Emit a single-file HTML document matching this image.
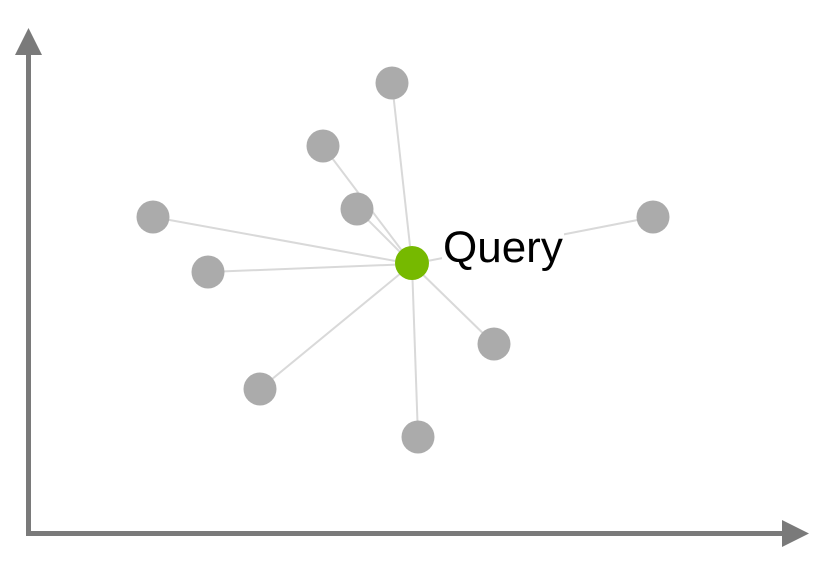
<!DOCTYPE html>
<html><head><style>html,body{margin:0;padding:0;background:#fff}svg{display:block}</style></head>
<body>
<svg width="838" height="562" xmlns="http://www.w3.org/2000/svg">
<g stroke="#d9d9d9" stroke-width="2">
<line x1="412" y1="264" x2="392" y2="83"/>
<line x1="412" y1="264" x2="323" y2="146"/>
<line x1="412" y1="264" x2="357" y2="209"/>
<line x1="412" y1="264" x2="153" y2="217"/>
<line x1="412" y1="264" x2="208" y2="272"/>
<line x1="412" y1="264" x2="653" y2="217"/>
<line x1="412" y1="264" x2="494" y2="344"/>
<line x1="412" y1="264" x2="260" y2="389"/>
<line x1="412" y1="264" x2="418" y2="437"/>
</g>
<rect x="442" y="224" width="122" height="52" fill="#fff"/>
<g fill="#ababab">
<circle cx="392" cy="83" r="16.5"/>
<circle cx="323" cy="146" r="16.5"/>
<circle cx="357" cy="209" r="16.5"/>
<circle cx="153" cy="217" r="16.5"/>
<circle cx="208" cy="272" r="16.5"/>
<circle cx="653" cy="217" r="16.5"/>
<circle cx="494" cy="344" r="16.5"/>
<circle cx="260" cy="389" r="16.5"/>
<circle cx="418" cy="437" r="16.5"/>
</g>
<circle cx="412" cy="263" r="17" fill="#76b900"/>
<text x="443" y="262" font-family="Liberation Sans, sans-serif" font-size="44" fill="#000">Query</text>
<g fill="#7a7a7a">
<rect x="26" y="50" width="5" height="486"/>
<rect x="26" y="531" width="760" height="5"/>
<polygon points="28.5,28 15,55 42,55"/>
<polygon points="809,533.5 782,520 782,547"/>
</g>
</svg>
</body></html>
